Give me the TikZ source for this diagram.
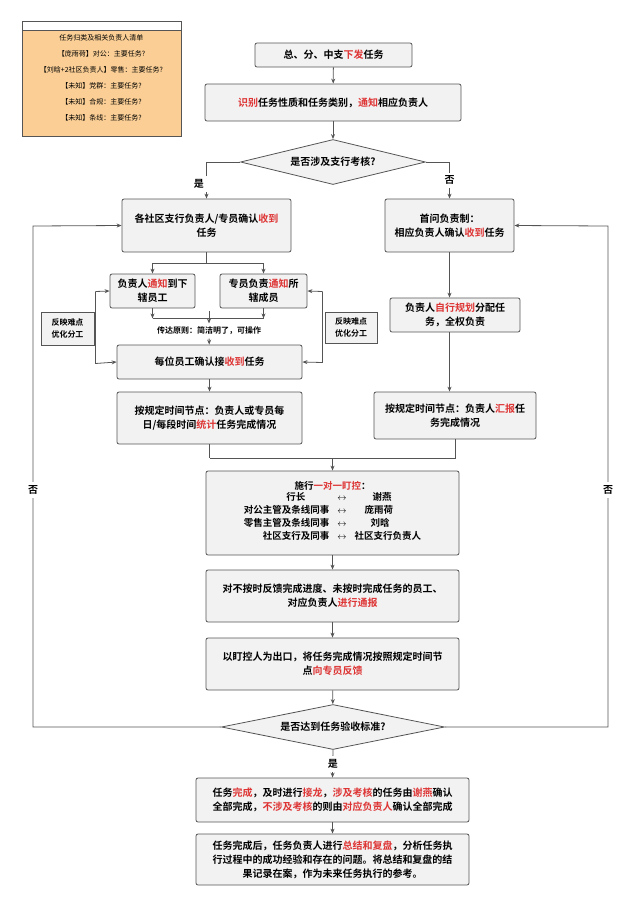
\documentclass[tikz,border=0pt]{standalone}
\usepackage{fontspec}
\setmainfont{Noto Sans CJK SC}[BoldFont={Noto Sans CJK SC Bold}]
\usetikzlibrary{arrows.meta,shapes.geometric}
\definecolor{hl}{RGB}{222,52,52}
\definecolor{boxfill}{RGB}{242,242,242}
\definecolor{edge}{RGB}{85,85,85}
\definecolor{note}{RGB}{250,206,148}
\newcommand{\hot}[1]{\textcolor{hl}{#1}}

\tikzset{box/.style = {draw=edge, fill=boxfill, rounded corners=2pt, thick,
                       align=center, font=\bfseries\fontsize{10}{14}\selectfont,
                       inner sep=2pt},
         tip/.style = {-{Stealth[length=5pt,width=4pt]}},
         flow/.style = {draw=edge, thick},
         feed/.style = {draw=edge, fill=boxfill, thick, align=center,
                        font=\bfseries\fontsize{8}{12}\selectfont, inner sep=2pt},
         lab/.style = {font=\bfseries\fontsize{10}{12}\selectfont}
        }

\begin{document}
\begin{tikzpicture}[x=1pt, y=-1pt]
  \useasboundingbox (0,0) rectangle (640,906);
  % list of owners
  \draw[edge, fill=note, thick] (22,21) rectangle (181,136);
  \draw[edge, fill=white, thick] (22,21) rectangle (181,30);
  \foreach \t [count=\i] in {任务归类及相关负责人清单, 【庞雨荷】对公：主要任务?,
        【刘晗+2社区负责人】零售：主要任务?, 【未知】党群：主要任务?,
        【未知】合规：主要任务?, 【未知】条线：主要任务?}
      {\node[font=\fontsize{7}{8}\selectfont] (list\i) at (101.5, 22+16*\i) {\t};};

  % main column
  \node[box, minimum width=157pt, minimum height=24pt] (issue) at (333.5,55) {总、分、中支\hot{下发}任务};
  \node[box, minimum width=256pt, minimum height=37pt] (sort) at (333,102.5) {\hot{识别}任务性质和任务类别，\hot{通知}相应负责人};
  \node[draw=edge, fill=boxfill, thick, diamond, aspect=4, minimum width=185pt, minimum height=45pt,
        inner sep=0pt, font=\bfseries\fontsize{10}{12}\selectfont] (exam) at (333,162) {是否涉及支行考核?};

  % left branch
  \node[box, minimum width=169pt, minimum height=53pt] (branch) at (206.5,225.5) {各社区支行负责人/专员确认\hot{收到}\\任务};
  \node[box, minimum width=85pt, minimum height=34pt] (leader) at (152.5,291) {负责人\hot{通知}到下\\辖员工};
  \node[box, minimum width=87pt, minimum height=34pt] (staff) at (263.5,291) {专员负责\hot{通知}所\\辖成员};
  \node[font=\bfseries\fontsize{8}{10}\selectfont] (rule) at (209,331) {传达原则：简洁明了，可操作};
  \node[box, minimum width=185pt, minimum height=34pt] (confirm) at (209.5,362) {每位员工确认接\hot{收到}任务};
  \node[box, minimum width=185pt, minimum height=52pt] (count) at (209.5,418) {按规定时间节点：负责人或专员每\\日/每段时间\hot{统计}任务完成情况};
  \node[feed, minimum width=53pt, minimum height=33pt] (fbL) at (67.5,328.5) {反映难点\\优化分工};
  \node[feed, minimum width=52pt, minimum height=31pt] (fbR) at (351,327.5) {反映难点\\优化分工};

  % right branch
  \node[box, minimum width=129pt, minimum height=53pt] (first) at (449.5,225.5) {首问负责制：\\相应负责人确认\hot{收到}任务};
  \node[box, minimum width=130pt, minimum height=34pt] (plan) at (455,315) {负责人\hot{自行规划}分配任\\务，全权负责};
  \node[box, minimum width=162pt, minimum height=47pt] (report) at (455,415.5) {按规定时间节点：负责人\hot{汇报}任\\务完成情况};

  % lower column
  \node[box, minimum width=253pt, minimum height=84pt, font=\bfseries\fontsize{9.5}{15}\selectfont] (watch) at (332.5,513)
      {施行\hot{一对一盯控}：\\[-1pt]
       \begin{tabular}{@{}r@{\hspace{8pt}}c@{\hspace{8pt}}l@{}}
       行长\hspace{24pt} & $\leftrightarrow$ & \hspace{18pt}谢燕\\[-2pt]
       对公主管及条线同事 & $\leftrightarrow$ & \hspace{10pt}庞雨荷\\[-2pt]
       零售主管及条线同事 & $\leftrightarrow$ & \hspace{16pt}刘晗\\[-2pt]
       社区支行及同事 & $\leftrightarrow$ & 社区支行负责人
       \end{tabular}};
  \node[box, minimum width=253pt, minimum height=52pt] (notify) at (332.5,596) {对不按时反馈完成进度、未按时完成任务的员工、\\对应负责人\hot{进行通报}};
  \node[box, minimum width=253pt, minimum height=52pt] (exit) at (332.5,664) {以盯控人为出口，将任务完成情况按照规定时间节\\点\hot{向专员反馈}};
  \node[draw=edge, fill=boxfill, thick, diamond, aspect=5, minimum width=223pt, minimum height=45pt,
        inner sep=0pt, font=\bfseries\fontsize{10}{12}\selectfont] (check) at (333,727) {是否达到任务验收标准?};
  \node[box, minimum width=273pt, minimum height=44pt] (done) at (332.5,800) {任务\hot{完成}，及时进行\hot{接龙}，\hot{涉及考核}的任务由\hot{谢燕}确认\\全部完成，\hot{不涉及考核}的则由\hot{对应负责人}确认全部完成};
  \node[box, minimum width=273pt, minimum height=51pt] (review) at (332.5,859.5) {任务完成后，任务负责人进行\hot{总结和复盘}，分析任务执\\行过程中的成功经验和存在的问题。将总结和复盘的结\\果记录在案，作为未来任务执行的参考。};

  % connectors
  \draw[flow, tip] (issue) -- (sort);
  \draw[flow, tip] (sort) -- (exam);
  \draw[flow, tip] (exam.west) -| node[lab, pos=0.8, left=-1pt, fill=white] {是} (branch.north);
  \draw[flow, tip] (exam.east) -| node[lab, pos=0.75, fill=white] {否} (first.north);
  \draw[flow] (branch.south) -- (206.5,263) coordinate (split);
  \draw[flow, tip] (split) -| (leader.north);
  \draw[flow, tip] (split) -| (staff.north);
  \draw[flow, tip] (leader.south) -- ++(0,10);
  \draw[flow, tip] (staff.south) -- ++(0,10);
  \draw[flow] (leader.south) ++(0,10) -- ++(111,0);
  \draw[flow, tip] (rule.north) ++(0,-12) -- (rule.north);
  \draw[flow, tip] (rule) -- (confirm);
  \draw[flow, tip] (fbL.east) ++(1,-37) -- (leader.west);
  \draw[flow] (fbL.east) ++(1,-37) -- ++(0,72);
  \draw[flow, tip] (fbL.east) ++(1,35) -- (confirm.west);
  \draw[flow, tip] (fbR.west) ++(-2,-36) -- (staff.east);
  \draw[flow] (fbR.west) ++(-2,-36) -- ++(0,71);
  \draw[flow, tip] (fbR.west) ++(-2,35) -- (confirm.east);
  \draw[flow, tip] (confirm) -- (count);
  \draw[flow, tip] (first.south) -- (first.south |- plan.north);
  \draw[flow, tip] (first.south |- plan.south) -- (first.south |- report.north);
  \draw[flow] (count.south) -- ++(0,14) coordinate (joinL);
  \draw[flow] (report.south) |- (joinL);
  \draw[flow, tip] (332.5,458) -- (watch.north);
  \draw[flow, tip] (watch) -- (notify);
  \draw[flow, tip] (notify) -- (exit);
  \draw[flow, tip] (exit) -- (check);
  \draw[flow, tip] (check.south) -- node[lab, fill=white] {是} (done.north);
  \draw[flow, tip] (done) -- (review);
  \draw[flow, tip] (check.west) -| (33,226) -- (branch.west);
  \draw[flow, tip] (check.east) -| (608,226) -- (first.east);
  \node[lab, fill=white] (noL) at (33,490) {否};
  \node[lab, fill=white] (noR) at (608,490) {否};
\end{tikzpicture}
\end{document}
